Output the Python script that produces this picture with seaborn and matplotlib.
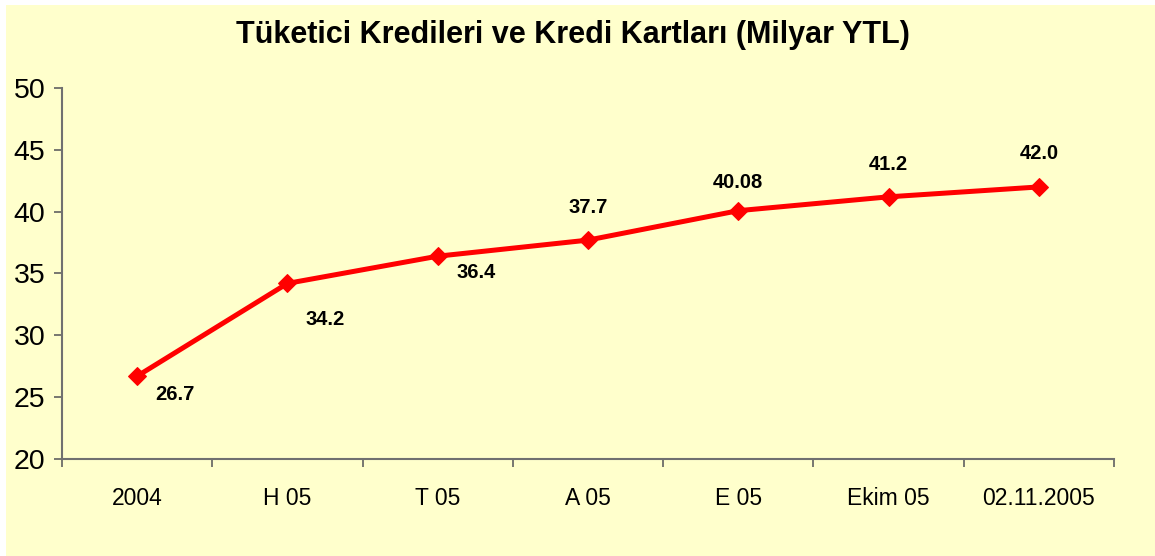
import matplotlib
matplotlib.use("Agg")
import matplotlib.pyplot as plt
import matplotlib.patches as mpatches
import pandas as pd
import seaborn as sns

periods = ["2004", "H 05", "T 05", "A 05", "E 05", "Ekim 05", "02.11.2005"]
values = [26.7, 34.2, 36.4, 37.7, 40.08, 41.2, 42.0]
value_labels = ["26.7", "34.2", "36.4", "37.7", "40.08", "41.2", "42.0"]
# label offsets in pixels (dx, dy)
label_offsets = [(38, -18), (38, -36), (38, -16), (0, 33), (0, 28), (0, 32), (0, 33)]

sns.set_style("white")
plt.rcParams["font.family"] = ["Liberation Sans", "DejaVu Sans"]
plt.rcParams["text.color"] = "black"
plt.rcParams["xtick.color"] = "black"
plt.rcParams["ytick.color"] = "black"

df = pd.DataFrame({"period": periods, "value": values})

fig = plt.figure(figsize=(11.55, 5.56), dpi=100)
fig.patch.set_facecolor("white")
fig.patches.append(mpatches.Rectangle((6 / 1155, 0), 1, 1 - 5 / 556, transform=fig.transFigure,
                                      facecolor="#FFFFCC", edgecolor="none", zorder=-10))
ax = fig.add_axes([62 / 1155, 1 - 459 / 556, (1114 - 62) / 1155, (459 - 88) / 556])
ax.set_facecolor("none")

sns.lineplot(data=df, x="period", y="value", ax=ax, sort=False, color="#FF0000",
             linewidth=3.6, marker="D", markersize=9, markeredgecolor="#FF0000")

for i, (v, lab, (dx, dy)) in enumerate(zip(values, value_labels, label_offsets)):
    ax.annotate(lab, (i, v), xytext=(dx, dy), textcoords="offset pixels",
                ha="center", va="center", fontsize=14.5, fontweight="bold", color="black")

ax.set_xlim(-0.5, 6.5)
ax.set_ylim(20, 50)
ax.set_yticks(range(20, 51, 5))
ax.set_xticks(range(len(periods)))
ax.set_xticklabels(periods)
ax.set_xticks([i - 0.5 for i in range(len(periods) + 1)], minor=True)
ax.tick_params(axis="x", which="major", bottom=True, length=0, pad=20, labelsize=16.5,
               labelcolor="black")
ax.tick_params(axis="x", which="minor", bottom=True, length=6, width=1.2, color="#606060",
               direction="out")
ax.tick_params(axis="y", left=True, length=6, width=1.2, color="#606060", direction="out",
               pad=6, labelsize=20.5, labelcolor="black")
ax.set_xlabel("")
ax.set_ylabel("")

for side in ["top", "right"]:
    ax.spines[side].set_visible(False)
for side in ["left", "bottom"]:
    ax.spines[side].set_color("#707070")
    ax.spines[side].set_linewidth(1.5)

fig.text(573 / 1155, 1 - 35 / 556, "Tüketici Kredileri ve Kredi Kartları (Milyar YTL)",
         ha="center", va="center", fontsize=22, fontweight="bold", color="black")

fig.savefig("out.png", dpi=100, facecolor=fig.get_facecolor())
